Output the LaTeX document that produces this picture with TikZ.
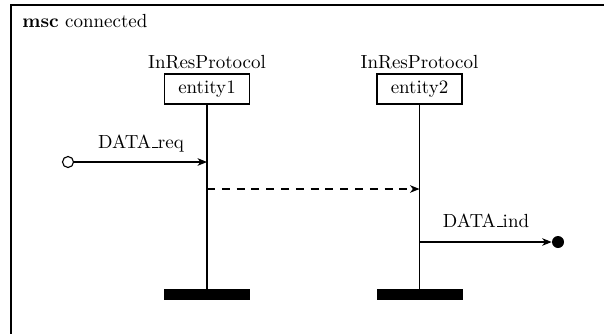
\documentclass[tikz,border=0pt]{standalone}
\usetikzlibrary{arrows.meta}
\newcommand{\lowus}{\leavevmode\kern.06em\vbox{\hrule width.3em}}
\begin{document}
\begin{tikzpicture}[x=0.527pt,y=-0.527pt,
  inst/.style={draw,line width=0.6pt,minimum width=85*0.527pt,minimum height=30*0.527pt,inner sep=0pt},
  life/.style={line width=0.6pt},
  msg/.style={line width=0.6pt,-{Stealth[length=5pt,width=4pt,inset=1.5pt]}},
  bar/.style={fill=black,draw=none,minimum width=86*0.527pt,minimum height=11*0.527pt,inner sep=0pt},
  lbl/.style={inner sep=0pt,anchor=base}]
\useasboundingbox (0,0) rectangle (604,334);
\draw[line width=0.6pt] (604,5) -- (11,5) -- (11,334);
\node[anchor=base west,inner sep=0pt] (title) at (22,27) {\textbf{msc} connected};
% instances
\node[inst] (e1) at (207,89) {entity1};
\node[inst] (e2) at (419.5,89) {entity2};
\node[lbl] (p1) at (207,68) {InResProtocol};
\node[lbl] (p2) at (419.5,68) {InResProtocol};
\node[bar] (b1) at (207,294.5) {};
\node[bar] (b2) at (419.5,294.5) {};
\draw[life] (e1.south) -- (b1.north);
\draw[life] (e2.south) -- (b2.north);
% messages
\node[draw,circle,line width=0.6pt,minimum size=11*0.527pt,inner sep=0pt] (src) at (68,162) {};
\coordinate (r1) at (207,162);
\draw[msg] (src.east) -- (r1);
\node[lbl] (l1) at (141,148) {DATA\lowus req};
\coordinate (s2) at (207,189);
\coordinate (r2) at (419.5,189);
\draw[msg,dash pattern=on 4.2pt off 3.6pt] (s2) -- (r2);
\coordinate (s3) at (419.5,242);
\node[circle,fill=black,minimum size=12*0.527pt,inner sep=0pt] (dst) at (558,242) {};
\draw[msg] (s3) -- (dst.west);
\node[lbl] (l3) at (486,227) {DATA\lowus ind};
\end{tikzpicture}
\end{document}
